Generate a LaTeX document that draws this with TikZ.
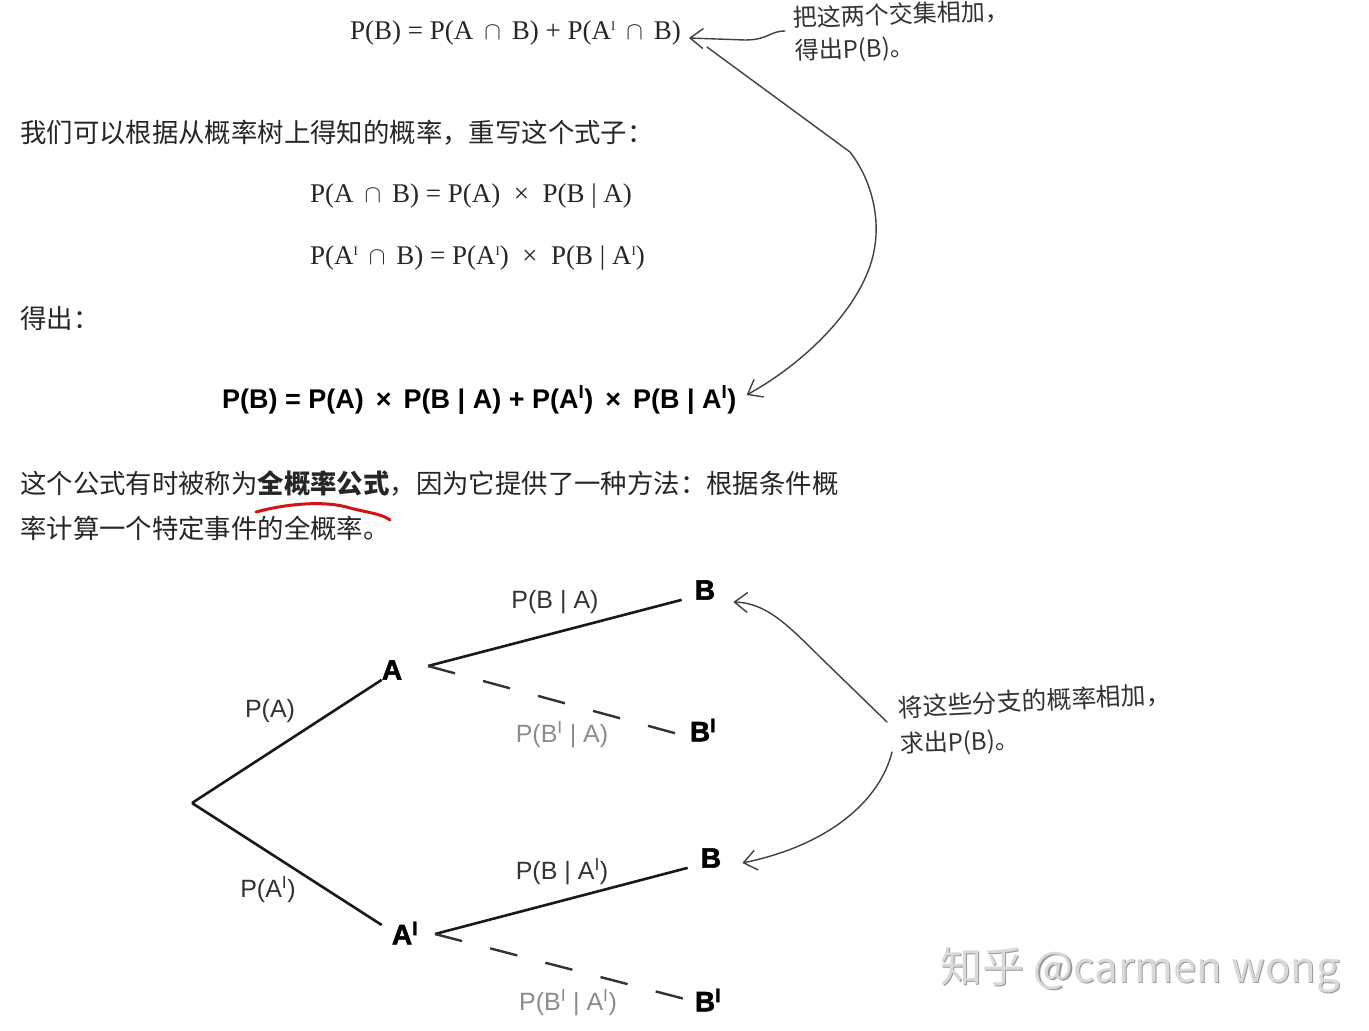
\documentclass[tikz,border=0pt]{standalone}
\usepackage{fontspec}
\setmainfont{Liberation Serif}
\newfontfamily\cjk{Noto Sans CJK SC}
\newfontfamily\sfl{Liberation Sans}
\newfontfamily\heavysf{Liberation Sans}[BoldFeatures={FakeBold=2}]
\usetikzlibrary{arrows.meta}
\definecolor{inkred}{HTML}{D41414}
\newcommand\supI{\raisebox{0.75ex}{\fontsize{13}{13}\selectfont I}}
\newcommand\capsym{\ensuremath{\,\cap\,}}
\begin{document}
\begin{tikzpicture}[x=1pt,y=-1pt,
  body/.style={font=\cjk\fontsize{26.4}{30}\selectfont, text=black!85, anchor=west, inner sep=0},
  serifeq/.style={font=\fontsize{27}{31}\selectfont, anchor=west, inner sep=0, text=black!85},
  boldeq/.style={font=\sfl\bfseries\fontsize{27}{32}\selectfont, anchor=west, inner sep=0, text=black},
  brlabel/.style={font=\sfl\fontsize{25}{30}\selectfont, inner sep=0, text=black!80},
  graylabel/.style={brlabel, text=black!45},
  event/.style={font=\heavysf\bfseries\fontsize{28}{32}\selectfont, inner sep=0, text=black},
  hand/.style={font=\cjk\fontsize{24}{28}\selectfont, text=black!80, anchor=west, inner sep=0},
  handline/.style={draw=black!75, line width=1.4pt, line cap=round, line join=round},
  handtip/.style={-{Straight Barb[length=13pt,width=20pt,line width=1.4pt]}},
  branch/.style={line width=2.6pt, draw=black!90},
  dashbranch/.style={line width=2.4pt, draw=black!80, dash pattern=on 28pt off 29pt},
  redline/.style={draw=inkred, line width=3pt, line cap=round},
  wmark/.style={font=\cjk\fontsize{42}{48}\selectfont, inner sep=0}
]
\fill[white] (0,0) rectangle (1369,1031);
\useasboundingbox (0,0) rectangle (1369,1031);

% formulas
\node[serifeq] (topeq) at (350,33) {P(B) = P(A \capsym\ B) + P(A\supI\ \capsym\ B)};
\node[serifeq] (eq1) at (310,196) {P(A \capsym\ B) = P(A) \ × \ P(B | A)};
\node[serifeq] (eq2) at (310,258) {P(A\supI\ \capsym\ B) = P(A\supI) \ × \ P(B | A\supI)};
\node[boldeq] (boldeq) at (222,400) {P(B) = P(A) \,×\, P(B | A) + P(A\textsuperscript{I}) \,×\, P(B | A\textsuperscript{I})};

% body text
\node[body] (t1) at (20,133) {我们可以根据从概率树上得知的概率，重写这个式子：};
\node[body] (t2) at (20,318) {得出：};
\node[body] (t3) at (20,484) {这个公式有时被称为{\bfseries 全概率公式}，因为它提供了一种方法：根据条件概};
\node[body] (t4) at (20,528) {率计算一个特定事件的全概率。};
\draw[redline] (256,512) .. controls (285,504) and (325,500) .. (350,508) .. controls (370,513) and (382,514) .. (390,520);

% handwritten notes
\node[hand, rotate=2] (note1a) at (793,18) {把这两个交集相加，};
\node[hand, rotate=2] (note1b) at (795,52) {得出P(B)。};
\node[hand, rotate=3, font=\cjk\fontsize{24.8}{28}\selectfont] (note2a) at (898,708) {将这些分支的概率相加，};
\node[hand, rotate=2] (note2b) at (900,745) {求出P(B)。};

% tree
\coordinate (root) at (192,803);
\node[event] (A) at (392,670) {A};
\node[event] (Ap) at (405,933) {A\textsuperscript{I}};
\node[event] (B1) at (705,590) {B};
\node[event] (B1p) at (703,730) {B\textsuperscript{I}};
\node[event] (B2) at (711,858) {B};
\node[event] (B2p) at (708,1000) {B\textsuperscript{I}};
\coordinate (Aout) at (428,666);
\coordinate (Apout) at (435,934);

\draw[branch] (root) -- (A.south west);
\draw[branch] (root) -- ([shift={(-10,-8)}]Ap.west);
\draw[branch] (Aout) -- ([xshift=-13pt]B1.south west);
\draw[dashbranch] (Aout) -- ([shift={(-8,5)}]B1p.west);
\draw[branch] (Apout) -- ([xshift=-13pt]B2.south west);
\draw[dashbranch] (Apout) -- ([shift={(-6,0)}]B2p.west);

\node[brlabel] (lA) at (270,711) {P(A)};
\node[brlabel] (lAp) at (268,890) {P(A\textsuperscript{I})};
\node[brlabel] (lBA) at (555,602) {P(B | A)};
\node[graylabel] (lBpA) at (562,735) {P(B\textsuperscript{I} | A)};
\node[brlabel] (lBAp) at (562,872) {P(B | A\textsuperscript{I})};
\node[graylabel] (lBpAp) at (568,1003) {P(B\textsuperscript{I} | A\textsuperscript{I})};

% hand-drawn arrows
\coordinate (s1) at (785,31);
\draw[handline, handtip] (s1) .. controls (770,31) and (768,40) .. (745,40) -- ([shift={(8,5)}]topeq.east);
\draw[handline, handtip] ([shift={(26,14)}]topeq.east) -- (850,152)
  .. controls (868,175) and (880,210) .. (875,245)
  .. controls (868,300) and (810,360) .. ([shift={(10,-5)}]boldeq.east);
\draw[handline, handtip] ([shift={(-11,14)}]note2a.west) -- (820,657)
  .. controls (785,622) and (765,603) .. ([shift={(18,12)}]B1.east);
\draw[handline, handtip] ([shift={(-8,7)}]note2b.west)
  .. controls (880,800) and (830,845) .. ([shift={(21,5)}]B2.east);

% watermark
\node[wmark, text=black!40] (wms) at (1141.5,971.5) {知乎 @carmen wong};
\node[wmark, text=black!15] (wm) at (1140,970) {知乎 @carmen wong};
\end{tikzpicture}
\end{document}
